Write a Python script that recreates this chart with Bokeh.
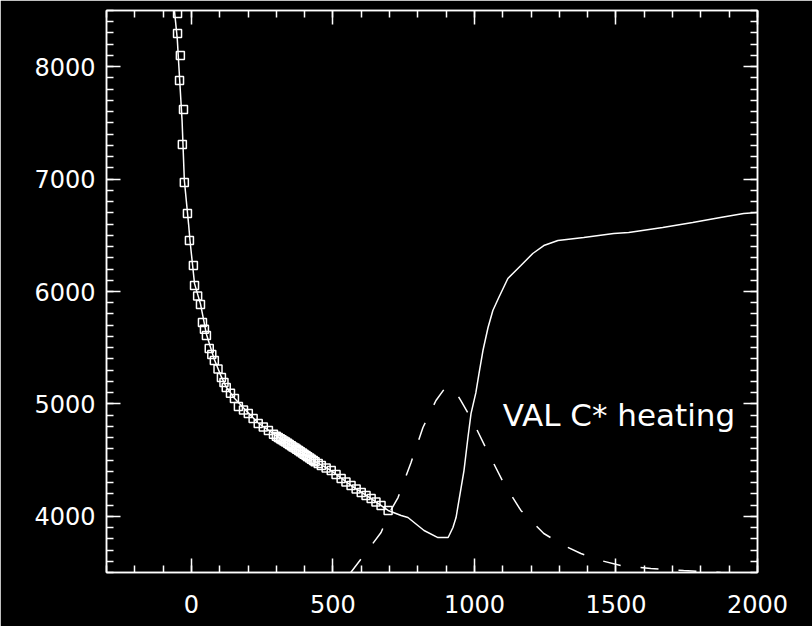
from bokeh.plotting import figure
from bokeh.models import Range1d, LinearAxis, SingleIntervalTicker
from bokeh.core.properties import value
from bokeh.embed import file_html
from bokeh.resources import INLINE

# ---- data ----
# solid model temperature curve: height (km) vs T (K)
line_h = [-62, -50, -44, -33, -25, -10, -5, 11, 32, 53, 81, 106, 123, 152, 201, 236, 272,
          307, 372, 437, 494, 564, 635, 695, 741, 765, 822, 871, 907, 924, 935, 963, 977,
          988, 1005, 1016, 1030, 1048, 1065, 1086, 1118, 1164, 1206, 1245, 1295, 1386,
          1492, 1545, 1665, 1771, 1869, 1951, 2000]
line_T = [8550, 8250, 7990, 7520, 6990, 6600, 6454, 6070, 5890, 5620, 5395, 5240, 5150,
          5050, 4920, 4830, 4766, 4702, 4598, 4488, 4407, 4274, 4158, 4052, 4007, 3989,
          3874, 3811, 3811, 3900, 3989, 4407, 4701, 4915, 5100, 5270, 5475, 5680, 5831,
          5947, 6116, 6231, 6338, 6409, 6454, 6480, 6516, 6525, 6570, 6614, 6658, 6694,
          6703]

# square markers: data points
sq_h = [-49, -49, -39, -42, -28, -32, -25, -14, -7, 7, 11, 22, 32, 39, 46, 53, 63, 72,
        81, 94, 106, 115, 123, 138, 152, 166, 184, 201, 218, 236, 254, 272, 290, 300,
        307, 314, 320, 327, 333, 340, 346, 353, 359, 366, 372, 379, 385, 392, 398, 405,
        411, 418, 424, 431, 437, 448, 459, 476, 494, 511, 529, 546, 564, 582, 600, 617,
        635, 652, 670, 695]
sq_T = [8473, 8296, 8100, 7877, 7619, 7308, 6970, 6694, 6454, 6231, 6053, 5960, 5884,
        5724, 5665, 5609, 5493, 5440, 5386, 5310, 5235, 5190, 5146, 5095, 5048, 4977,
        4945, 4915, 4870, 4826, 4795, 4763, 4730, 4712, 4700, 4690, 4680, 4670, 4660,
        4649, 4638, 4628, 4617, 4607, 4596, 4585, 4574, 4563, 4552, 4541, 4530, 4519,
        4508, 4497, 4486, 4469, 4452, 4430, 4407, 4372, 4336, 4305, 4274, 4243, 4212,
        4185, 4158, 4127, 4096, 4052]

# dashed heating profile (scaled)
heat_h = [560, 617, 670, 698, 730, 776, 818, 864, 890, 910, 930, 952, 998, 1041, 1104,
          1164, 1245, 1316, 1376, 1446, 1517, 1623, 1739, 1870]
heat_T = [3490, 3678, 3856, 4025, 4167, 4479, 4790, 5030, 5120, 5150, 5120, 5030, 4826,
          4603, 4292, 4052, 3847, 3740, 3669, 3607, 3562, 3536, 3518, 3500]

label_text = "VAL C* heating"
label_h = 1100
label_T = 4897

x_start, x_end = -300, 2000
y_start, y_end = 3500, 8500

FG = "white"
FONT = "DejaVu Sans"

p = figure(width=812, height=626, output_backend="svg", toolbar_location=None,
           x_range=Range1d(x_start, x_end), y_range=Range1d(y_start, y_end),
           x_axis_location=None, y_axis_location=None,
           min_border_left=106, min_border_right=55, min_border_top=10,
           min_border_bottom=54)
p.background_fill_color = "black"
p.border_fill_color = "black"
p.outline_line_color = FG
p.outline_line_width = 1.5
p.xgrid.visible = False
p.ygrid.visible = False


def make_axis(kind, labels):
    if kind == "x":
        t = SingleIntervalTicker(interval=500, num_minor_ticks=5)
    else:
        t = SingleIntervalTicker(interval=1000, num_minor_ticks=10)
    a = LinearAxis(ticker=t)
    a.axis_line_color = FG
    a.axis_line_width = 1.5
    a.major_tick_line_color = FG
    a.minor_tick_line_color = FG
    a.major_tick_line_width = 1.5
    a.minor_tick_line_width = 1.5
    a.major_tick_in = 14
    a.major_tick_out = 0
    a.minor_tick_in = 7
    a.minor_tick_out = 0
    if labels:
        a.major_label_text_color = FG
        a.major_label_text_font = FONT
        a.major_label_text_font_size = "24px"
        a.major_label_standoff = 22 if kind == "x" else 11
    else:
        a.major_label_text_font_size = "0px"
        a.major_label_text_color = None
        a.major_label_standoff = 0
    return a


p.add_layout(make_axis("x", True), "below")
p.add_layout(make_axis("x", False), "above")
p.add_layout(make_axis("y", True), "left")
p.add_layout(make_axis("y", False), "right")

p.line(line_h, line_T, line_color=FG, line_width=1.5)
p.scatter(sq_h, sq_T, marker="square", size=8, line_color=FG, line_width=1.5,
          fill_color=None)
p.line(heat_h, heat_T, line_color=FG, line_width=1.5, line_dash="18 20")
p.text(x=[label_h], y=[label_T], text=[label_text], text_color=FG,
       text_font=value(FONT), text_font_size="31px", text_baseline="alphabetic",
       text_align="left")

open("out.html", "w").write(file_html(p, INLINE))
